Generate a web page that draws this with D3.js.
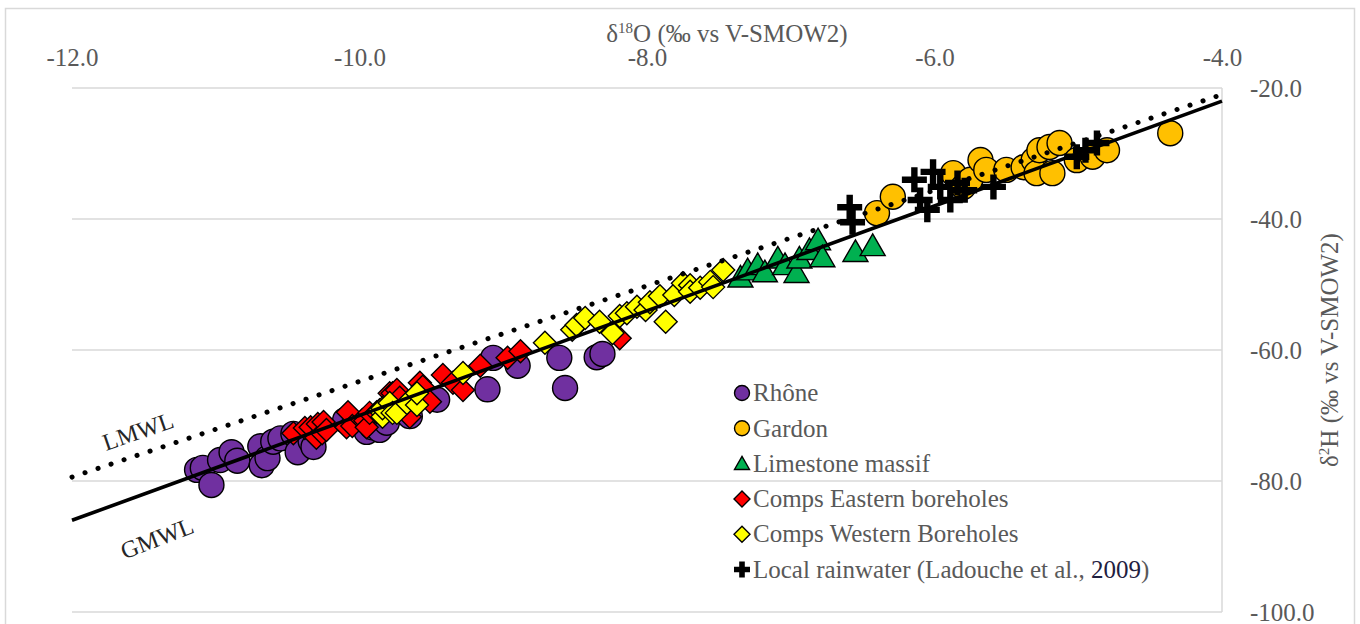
<!DOCTYPE html>
<html>
<head>
<meta charset="utf-8">
<script src="https://cdn.jsdelivr.net/npm/d3@7/dist/d3.min.js"></script>
<style>
  html, body { margin: 0; padding: 0; background: #ffffff; }
  svg { display: block; }
  text { font-family: "Liberation Serif", "Times New Roman", serif; }
</style>
</head>
<body>
<svg id="chart" width="1360" height="624"></svg>
<script>
// ---------- data (δ18O, δ2H) ----------
const xTicks = [-12, -10, -8, -6, -4];
const yTicks = [-20, -40, -60, -80, -100];
const lineX = [-12, -4];
const gmwlCoef = [8, 10];     // slope, intercept
const lmwlCoef = [7.3, 8.2];  // slope, intercept

const rhone = [[-11.13,-78.3],[-11.09,-78.0],[-11.03,-80.6],[-10.97,-76.8],[-10.89,-75.6],[-10.85,-76.9],
  [-10.69,-74.7],[-10.68,-77.6],[-10.64,-76.5],[-10.60,-74.0],[-10.55,-73.5],[-10.46,-72.8],[-10.43,-75.6],
  [-10.34,-73.9],[-10.32,-74.8],[-10.10,-70.7],[-9.95,-72.5],[-9.91,-71.8],[-9.86,-72.2],[-9.81,-71.1],
  [-9.65,-70.1],[-9.46,-67.6],[-9.11,-66.0],[-8.90,-62.4],[-9.07,-61.2],[-8.61,-61.2],[-8.57,-65.8],
  [-8.35,-61.1],[-8.31,-60.6]];

const gardon = [[-6.40,-39.1],[-6.29,-36.6],[-5.87,-33.0],[-5.80,-35.1],[-5.75,-34.0],[-5.68,-31.0],
  [-5.64,-32.5],[-5.50,-32.5],[-5.38,-32.1],[-5.31,-31.0],[-5.29,-33.0],[-5.27,-29.5],[-5.20,-29.0],
  [-5.18,-33.0],[-5.13,-28.4],[-5.01,-31.0],[-4.90,-30.5],[-4.80,-29.5],[-4.36,-26.9]];

const limestone = [[-7.35,-48.9],[-7.30,-47.8],[-7.23,-47.0],[-7.18,-48.1],[-7.09,-46.0],[-7.04,-47.0],
  [-6.96,-48.2],[-6.94,-46.0],[-6.87,-44.7],[-6.81,-43.2],[-6.78,-45.8],[-6.55,-45.0],[-6.43,-44.1]];

const compsEast = [[-10.46,-72.7],[-10.38,-71.9],[-10.34,-71.8],[-10.30,-73.4],[-10.29,-71.3],[-10.26,-72.7],
  [-10.25,-71.0],[-10.23,-72.2],[-10.09,-71.8],[-10.08,-69.5],[-10.05,-71.6],[-9.98,-70.7],[-9.96,-70.8],
  [-9.95,-71.8],[-9.93,-69.6],[-9.88,-69.5],[-9.79,-66.6],[-9.77,-66.6],[-9.74,-66.1],[-9.72,-67.3],
  [-9.65,-70.2],[-9.58,-65.0],[-9.56,-65.6],[-9.51,-67.9],[-9.42,-63.8],[-9.35,-65.0],[-9.28,-66.1],
  [-9.16,-62.4],[-8.97,-61.2],[-8.88,-60.2],[-8.19,-58.2]];

const compsWest = [[-9.86,-69.2],[-9.84,-70.2],[-9.84,-68.9],[-9.79,-68.1],[-9.77,-69.6],[-9.74,-69.6],
  [-9.67,-68.1],[-9.60,-68.4],[-9.60,-66.6],[-9.28,-63.5],[-8.71,-58.9],[-8.52,-56.9],[-8.49,-56.2],
  [-8.43,-55.1],[-8.33,-55.7],[-8.24,-57.4],[-8.19,-54.8],[-8.14,-54.4],[-8.07,-53.4],[-8.01,-53.9],
  [-7.98,-52.7],[-7.91,-51.8],[-7.87,-55.7],[-7.81,-51.6],[-7.75,-49.8],[-7.70,-50.1],[-7.70,-51.1],
  [-7.63,-50.5],[-7.56,-49.6],[-7.54,-50.4],[-7.47,-47.8]];

const rainwater = [[-6.59,-38.2],[-6.57,-40.5],[-6.14,-34.0],[-6.10,-37.1],[-6.05,-38.6],[-6.01,-32.8],
  [-5.96,-35.1],[-5.89,-37.1],[-5.84,-34.5],[-5.79,-35.6],[-5.59,-35.1],[-5.01,-30.5],[-4.95,-29.5],[-4.87,-28.4]];

const seriesNames = ["Rhône", "Gardon", "Limestone massif", "Comps Eastern boreholes",
  "Comps Western Boreholes", "Local rainwater (Ladouche et al., 2009)"];

// ---------- setup ----------
const svg = d3.select("#chart");
const x = d3.scaleLinear().domain([-12, -4]).range([72, 1222]);
const y = d3.scaleLinear().domain([-20, -100]).range([88, 612]);
const textColor = "#595959";
const gridColor = "#d9d9d9";
const serif = "'Liberation Serif', 'Times New Roman', serif";
const fmt = d => d.toFixed(1);

// outer frame
svg.append("rect").attr("x", 5.5).attr("y", 8.5).attr("width", 1349).attr("height", 640)
  .attr("fill", "#fff").attr("stroke", gridColor).attr("stroke-width", 1.5);

// gridlines
svg.append("g").selectAll("line").data(yTicks).join("line")
  .attr("x1", x(-12)).attr("x2", x(-4))
  .attr("y1", d => y(d)).attr("y2", d => y(d))
  .attr("stroke", gridColor).attr("stroke-width", 1.5);
svg.append("line").attr("x1", x(-4)).attr("x2", x(-4)).attr("y1", y(-20)).attr("y2", y(-100))
  .attr("stroke", gridColor).attr("stroke-width", 1.5);

// top x axis
const xAxis = d3.axisTop(x).tickValues(xTicks).tickFormat(fmt).tickSize(0).tickPadding(22);
const gx = svg.append("g").attr("transform", `translate(0,${y(-20)})`).call(xAxis)
  .attr("font-family", serif).attr("font-size", 25);
gx.select(".domain").remove();
gx.selectAll("text").attr("fill", textColor);

// right y axis
const yAxis = d3.axisRight(y).tickValues(yTicks).tickFormat(fmt).tickSize(0).tickPadding(28);
const gy = svg.append("g").attr("transform", `translate(${x(-4)},0)`).call(yAxis)
  .attr("font-family", serif).attr("font-size", 25);
gy.select(".domain").remove();
gy.selectAll("text").attr("fill", textColor);

// axis titles
const xt = svg.append("text").attr("x", 727).attr("y", 42).attr("text-anchor", "middle")
  .attr("fill", textColor).style("font-size", "25px");
xt.append("tspan").text("δ");
xt.append("tspan").attr("dy", -9).style("font-size", "15px").text("18");
xt.append("tspan").attr("dy", 9).text("O (‰ vs V-SMOW2)");

const yt = svg.append("text").attr("transform", "translate(1338,350) rotate(-90)")
  .attr("text-anchor", "middle").attr("fill", textColor).style("font-size", "25px");
yt.append("tspan").text("δ");
yt.append("tspan").attr("dy", -9).style("font-size", "15px").text("2");
yt.append("tspan").attr("dy", 9).text("H (‰ vs V-SMOW2)");

// ---------- markers ----------
function circlePath(r) { return d3.symbol(d3.symbolCircle, Math.PI * r * r)(); }
function trianglePath(s) {
  const h = s * Math.sqrt(3) / 2;
  return `M0,${-h * 0.55}L${s / 2},${h * 0.45}L${-s / 2},${h * 0.45}Z`;
}
function diamondPath(d) { return `M0,${-d}L${d},0L0,${d}L${-d},0Z`; }
function plusPath(a, t) {
  return `M${-t},${-a}H${t}V${-t}H${a}V${t}H${t}V${a}H${-t}V${t}H${-a}V${-t}H${-t}Z`;
}

const series = [
  { data: rhone, fill: "#7030A0", path: circlePath(12.5), legendPath: circlePath(7.5), stroke: "#000" },
  { data: gardon, fill: "#FFC000", path: circlePath(12.5), legendPath: circlePath(7.5), stroke: "#000" },
  { data: limestone, fill: "#00B050", path: trianglePath(25), legendPath: trianglePath(15), stroke: "#000" },
  { data: compsEast, fill: "#FF0000", path: diamondPath(11.5), legendPath: diamondPath(8), stroke: "#000" },
  { data: compsWest, fill: "#FFFF00", path: diamondPath(11.5), legendPath: diamondPath(8), stroke: "#000" },
  { data: rainwater, fill: "#000000", path: plusPath(12.5, 3.2), legendPath: plusPath(8, 2.8), stroke: "none" }
];

series.forEach(s => {
  svg.append("g").selectAll("path").data(s.data).join("path")
    .attr("d", s.path)
    .attr("transform", d => `translate(${x(d[0])},${y(d[1])})`)
    .attr("fill", s.fill).attr("stroke", s.stroke).attr("stroke-width", 1.4);
});

// ---------- meteoric water lines ----------
const line = d3.line().x(d => x(d[0])).y(d => y(d[1]));
svg.append("path").datum(lineX.map(v => [v, gmwlCoef[0] * v + gmwlCoef[1]]))
  .attr("d", line).attr("fill", "none").attr("stroke", "#000").attr("stroke-width", 3.6);
svg.append("path").datum(lineX.map(v => [v, lmwlCoef[0] * v + lmwlCoef[1]]))
  .attr("d", line).attr("fill", "none").attr("stroke", "#000").attr("stroke-width", 5)
  .attr("stroke-linecap", "round").attr("stroke-dasharray", "0.1,13.6");

svg.append("text").attr("transform", "translate(138,431) rotate(-19)").attr("text-anchor", "middle")
  .attr("dy", "0.35em").attr("fill", "#262626").style("font-size", "24px").text("LMWL");
svg.append("text").attr("transform", "translate(157,538) rotate(-21)").attr("text-anchor", "middle")
  .attr("dy", "0.35em").attr("fill", "#262626").style("font-size", "24px").text("GMWL");

// ---------- legend ----------
const lg = svg.append("g");
const rows = lg.selectAll("g").data(series).join("g")
  .attr("transform", (d, i) => `translate(742,${393 + i * 35.3})`);
rows.append("path").attr("d", d => d.legendPath)
  .attr("fill", d => d.fill).attr("stroke", d => d.stroke).attr("stroke-width", 1.4);
rows.append("text").attr("x", 11).attr("dy", "0.33em").attr("fill", textColor)
  .style("font-size", "25px")
  .each(function (d, i) {
    const t = d3.select(this);
    const name = seriesNames[i];
    if (name.includes("2009")) {
      t.append("tspan").text(name.replace("2009)", ""));
      t.append("tspan").attr("fill", "#1f2040").text("2009");
      t.append("tspan").text(")");
    } else {
      t.text(name);
    }
  });
</script>
</body>
</html>
